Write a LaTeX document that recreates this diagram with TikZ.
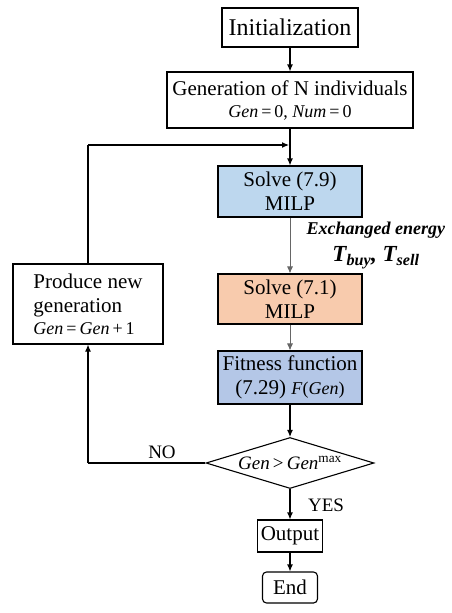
\documentclass[tikz,border=0pt]{standalone}
\usepackage{fontspec}
\setmainfont{Liberation Serif}
\usetikzlibrary{shapes.geometric, arrows.meta}

\definecolor{solveblue}{HTML}{BDD7EE}
\definecolor{solveorange}{HTML}{F8CBAD}
\definecolor{fitblue}{HTML}{B4C7E7}

\begin{document}
\begin{tikzpicture}[x=1pt, y=1pt,
    box/.style={draw, line width=1.1pt, inner sep=0pt, align=center, font=\fontsize{21}{24}\selectfont},
    flow/.style={-{Latex[length=7pt, width=6pt]}, line width=1.1pt},
    thin flow/.style={-{Latex[length=7pt, width=6pt]}, line width=0.8pt, gray!80!black}]
    \useasboundingbox (0,0) rectangle (452,-613);

    % main column
    \node[box, minimum width=136pt, minimum height=39pt, font=\fontsize{24}{28}\selectfont] (init) at (290,-27.5) {Initialization};
    \node[box, minimum width=246pt, minimum height=56pt] (gen) at (290,-100)
        {Generation of N individuals\\[-2pt]{\fontsize{18}{20}\selectfont\textit{Gen}\,=\,0, \textit{Num}\,=\,0}};
    \node[box, fill=solveblue, minimum width=144pt, minimum height=51pt] (solveA) at (290,-191.5) {Solve (7.9)\\MILP};
    \node[box, fill=solveorange, minimum width=144pt, minimum height=50pt] (solveB) at (290,-299) {Solve (7.1)\\MILP};
    \node[box, fill=fitblue, minimum width=144pt, minimum height=53pt] (fit) at (290,-377.5)
        {Fitness function\\(7.29) {\fontsize{18}{20}\selectfont\textit{F}(\textit{Gen})}};
    \node[draw, line width=1.1pt, shape=diamond, aspect=3.3, inner sep=0pt, minimum width=168pt, minimum height=51pt,
        font=\fontsize{19}{20}\selectfont] (dec) at (290,-463) {\textit{Gen}\,>\,\textit{Gen}\textsuperscript{max}};
    \node[box, minimum width=65pt, minimum height=32pt] (out) at (290,-536) {Output};
    \node[box, rounded corners=4pt, minimum width=55pt, minimum height=31pt] (end) at (290,-587.5) {End};

    % loop back
    \node[box, align=left, minimum width=150pt, minimum height=80pt] (prod) at (88,-304)
        {Produce new\\generation\\[-2pt]{\fontsize{18}{20}\selectfont\textit{Gen}\,=\,\textit{Gen}\,+\,1}};
    \coordinate (loop) at (88,-145);
    \coordinate (join) at (289,-145);
    \coordinate (turn) at (88,-463);

    % labels
    \node[anchor=west, font=\fontsize{18}{20}\selectfont\bfseries\itshape] (xlabel) at (303,-230) {Exchanged energy};
    \node[font=\fontsize{23}{26}\selectfont\bfseries\itshape] (tlabel) at (376,-258) {T\textsubscript{buy}, T\textsubscript{sell}};
    \node[font=\fontsize{19}{22}\selectfont] (nolabel) at (162,-452) {NO};
    \node[font=\fontsize{19}{22}\selectfont] (yeslabel) at (326,-505) {YES};

    % connections
    \draw[flow] (init) -- (gen);
    \draw[flow] (gen.south) -- (gen.south |- solveA.north);
    \draw[thin flow] (solveA.south) -- (solveA.south |- solveB.north);
    \draw[thin flow] (solveB.south) -- (solveB.south |- fit.north);
    \draw[flow] (fit) -- (dec);
    \draw[flow] (dec) -- (out);
    \draw[flow] (out) -- (end);
    \draw[line width=1.1pt] (dec.west) -- (turn);
    \draw[flow] (turn) -- (prod.south);
    \draw[line width=1.1pt] (prod.north) -- (loop);
    \draw[flow] (loop) -- (join);
\end{tikzpicture}
\end{document}
